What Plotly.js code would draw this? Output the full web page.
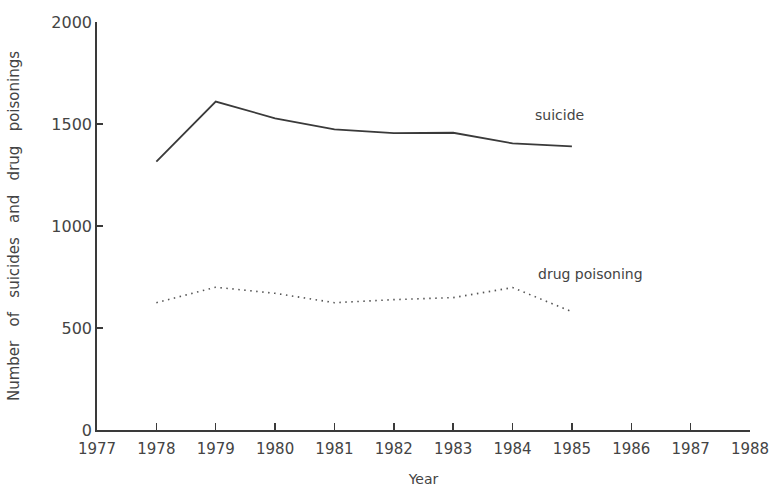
<!DOCTYPE html>
<html>
<head>
<meta charset="utf-8">
<script src="https://cdn.plot.ly/plotly-3.0.1.min.js"></script>
<style>html,body{margin:0;padding:0;background:#fff;}#chart{width:773px;height:487px;}</style>
</head>
<body>
<div id="chart"></div>
<script>
const years = [1978, 1979, 1980, 1981, 1982, 1983, 1984, 1985];
const suicide = [1315, 1610, 1528, 1474, 1455, 1457, 1405, 1390];
const drugPoisoning = [624, 700, 670, 624, 639, 649, 698, 580];
const xTicks = [1977, 1978, 1979, 1980, 1981, 1982, 1983, 1984, 1985, 1986, 1987, 1988];
const yTicks = [0, 500, 1000, 1500, 2000];
const seriesLabels = ["suicide", "drug poisoning"];

const ink = '#3a3a3a';
const traces = [
  {x: years, y: suicide, mode: 'lines', line: {color: ink, width: 1.8}, hoverinfo: 'skip'},
  {x: years, y: drugPoisoning, mode: 'lines', line: {color: '#555', width: 1.6, dash: '1.5px,4.5px'}, hoverinfo: 'skip'}
];

const layout = {
  width: 773, height: 487,
  margin: {l: 97, r: 23, t: 22, b: 57},
  paper_bgcolor: '#fff', plot_bgcolor: '#fff',
  showlegend: false,
  font: {family: 'DejaVu Sans, sans-serif', color: '#444'},
  xaxis: {
    range: [1977, 1988], tickvals: xTicks, ticktext: xTicks.map(String),
    ticks: 'inside', ticklen: 7, tickwidth: 1.5, tickcolor: ink,
    showline: true, linecolor: ink, linewidth: 1.5, showgrid: false, zeroline: false,
    ticklabelstandoff: 4,
    tickfont: {size: 15, color: '#444'},
    title: {text: 'Year', font: {size: 14, color: '#444'}, standoff: 20}
  },
  yaxis: {
    range: [0, 2000], tickvals: yTicks, ticktext: yTicks.map(String),
    ticks: 'inside', ticklen: 6, tickwidth: 1.5, tickcolor: ink,
    showline: true, linecolor: ink, linewidth: 1.8, showgrid: false, zeroline: false,
    tickfont: {size: 16, color: '#444'},
    title: {text: 'Number   of   suicides   and   drug   poisonings', font: {size: 15, color: '#444'}, standoff: 28}
  },
  annotations: [
    {x: 1984.35, y: 1545, xref: 'x', yref: 'y', text: seriesLabels[0], showarrow: false, xanchor: 'left', font: {size: 14, color: '#444'}},
    {x: 1984.4, y: 765, xref: 'x', yref: 'y', text: seriesLabels[1], showarrow: false, xanchor: 'left', font: {size: 14, color: '#444'}}
  ]
};

Plotly.newPlot('chart', traces, layout, {staticPlot: true, displayModeBar: false});
</script>
</body>
</html>
